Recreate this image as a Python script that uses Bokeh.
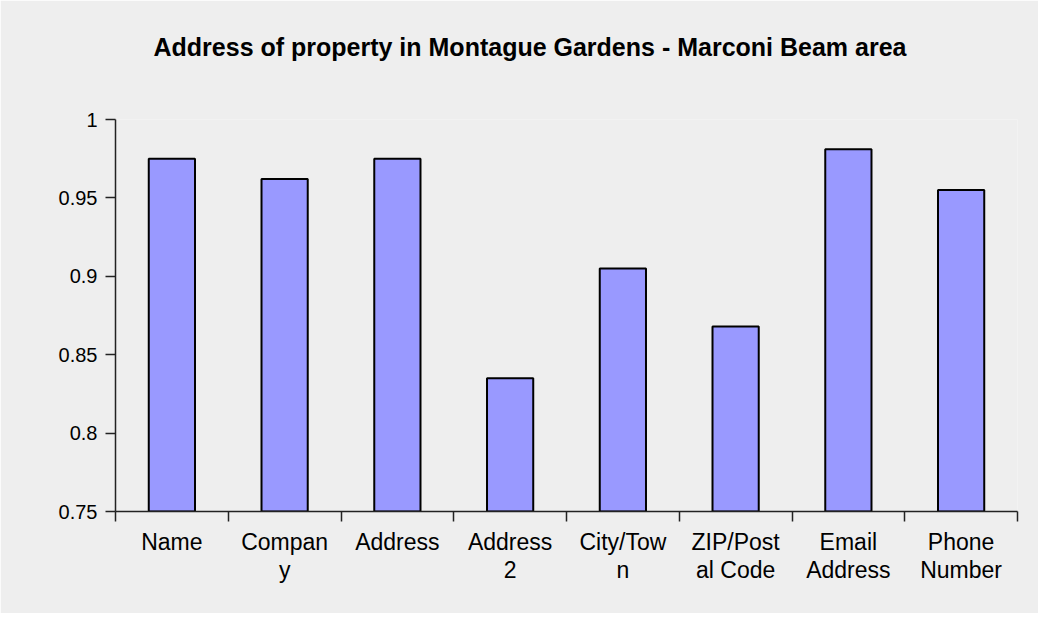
from bokeh.plotting import figure
from bokeh.models import (FactorRange, Range1d, LinearAxis, CategoricalAxis,
                          FixedTicker, ColumnDataSource, Title)
from bokeh.embed import file_html
from bokeh.resources import INLINE

# ---- data ----
categories = ["Name", "Company", "Address", "Address 2", "City/Town",
              "ZIP/Postal Code", "Email Address", "Phone Number"]
values = [0.975, 0.962, 0.975, 0.835, 0.905, 0.868, 0.981, 0.955]
x_labels = ["Name", "Compan\ny", "Address", "Address\n2", "City/Tow\nn",
            "ZIP/Post\nal Code", "Email\nAddress", "Phone\nNumber"]
y_ticks = [0.75, 0.8, 0.85, 0.9, 0.95, 1.0]
y_tick_labels = ["0.75", "0.8", "0.85", "0.9", "0.95", "1"]
title_text = "Address of property in Montague Gardens - Marconi Beam area"

BG = "#eeeeee"
FONT = "Liberation Sans"

source = ColumnDataSource(dict(cat=x_labels, name=categories, val=values))

p = figure(x_range=FactorRange(*x_labels), y_range=Range1d(y_ticks[0], y_ticks[-1]),
           width=1038, height=613, output_backend="svg", toolbar_location=None,
           x_axis_type=None, y_axis_type=None, title=None)
p.min_border_left = 115
p.min_border_right = 21
p.min_border_top = 119
p.min_border_bottom = 102
p.background_fill_color = BG
p.border_fill_color = BG
p.outline_line_color = None

# invisible spacer between plot area and title
spacer = LinearAxis(ticker=FixedTicker(ticks=[0]))
spacer.major_label_overrides = {0: ""}
spacer.major_label_text_font_size = "10px"
spacer.axis_line_color = None
spacer.major_tick_line_color = None
spacer.minor_tick_line_color = None
spacer.major_tick_out = 57
spacer.major_tick_in = 0
spacer.minor_tick_out = 0
spacer.minor_tick_in = 0
spacer.major_label_standoff = 0
p.add_layout(spacer, "above")

# title
title = Title(text=title_text, text_font=FONT, text_font_style="bold",
              text_font_size="25px", text_color="#000000", align="left",
              offset=38, vertical_align="top", standoff=0)
p.add_layout(title, "above")

# bars
p.vbar(x="cat", top="val", bottom=y_ticks[0], width=0.41, source=source,
       fill_color="#9999ff", line_color="#000000", line_width=2)

# y axis
yax = LinearAxis(ticker=FixedTicker(ticks=y_ticks))
yax.major_label_overrides = dict(zip(y_ticks, y_tick_labels))
yax.major_tick_out = 10
yax.major_tick_in = 0
yax.minor_tick_out = 0
yax.minor_tick_in = 0
yax.major_label_standoff = 8
yax.major_label_text_font = FONT
yax.major_label_text_font_size = "20px"
yax.major_label_text_color = "#000000"
yax.axis_line_color = "#222222"
yax.axis_line_width = 1.5
yax.major_tick_line_color = "#222222"
yax.major_tick_line_width = 1.5
p.add_layout(yax, "left")

# x axis: boundary ticks (no labels)
bounds = list(range(len(categories) + 1))
xtick = LinearAxis(ticker=FixedTicker(ticks=bounds))
xtick.major_label_overrides = {b: "" for b in bounds}
xtick.major_tick_out = 10
xtick.major_tick_in = 0
xtick.minor_tick_out = 0
xtick.minor_tick_in = 0
xtick.major_label_text_font_size = "10px"
xtick.major_label_standoff = 0
xtick.axis_line_color = "#222222"
xtick.axis_line_width = 1.5
xtick.major_tick_line_color = "#222222"
xtick.major_tick_line_width = 1.5
p.add_layout(xtick, "below")

# x axis: category labels
xcat = CategoricalAxis()
xcat.major_tick_out = 0
xcat.major_tick_in = 0
xcat.axis_line_color = None
xcat.major_label_standoff = 7
xcat.major_label_text_font = FONT
xcat.major_label_text_font_size = "23px"
xcat.major_label_text_color = "#000000"
xcat.major_label_text_line_height = 1.08
xcat.major_label_orientation = "horizontal"
p.add_layout(xcat, "below")

# grid
p.ygrid.ticker = FixedTicker(ticks=y_ticks)
p.ygrid.grid_line_color = "#333333"
p.ygrid.grid_line_width = 1.6
p.xgrid.grid_line_color = None

open("out.html", "w").write(file_html(p, INLINE))
